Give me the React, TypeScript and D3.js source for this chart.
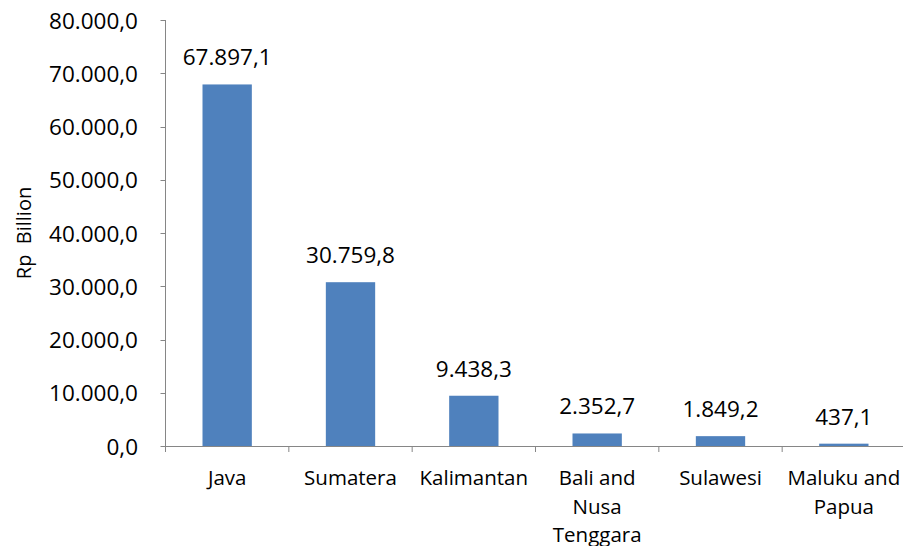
import React from "react";
import { scaleBand, scaleLinear, formatLocale } from "d3";

const regions = ["Java", "Sumatera", "Kalimantan", "Bali and Nusa Tenggara", "Sulawesi", "Maluku and Papua"];
const regionLines = [["Java"], ["Sumatera"], ["Kalimantan"], ["Bali and", "Nusa", "Tenggara"], ["Sulawesi"], ["Maluku and", "Papua"]];
const values = [67897.1, 30759.8, 9438.3, 2352.7, 1849.2, 437.1];
const yTicks = [0, 10000, 20000, 30000, 40000, 50000, 60000, 70000, 80000];

const idLocale = formatLocale({ decimal: ",", thousands: ".", grouping: [3], currency: ["Rp", ""] });
const fmt = idLocale.format(",.1f");

const W = 903;
const H = 546;
const left = 165.5;
const right = 905.5;
const top = 20;
const bottom = 446;
const font = "'Open Sans', sans-serif";
const axisColor = "#868686";

export default function App() {
  const x = scaleBand().domain(regions).range([left, right]).paddingInner(0.6).paddingOuter(0.3);
  const y = scaleLinear().domain([0, 80000]).range([bottom, top]);
  const step = x.step();

  return (
    <svg width={W} height={H} style={{ position: "absolute", left: 0, top: 0, background: "#fff" }} fontFamily={font}>
      {/* bars */}
      {values.map((v, i) => (
        <rect key={i} x={x(regions[i])} y={y(v)} width={x.bandwidth()} height={bottom - y(v)} fill="#4F81BD" />
      ))}
      {/* value labels */}
      {values.map((v, i) => (
        <text key={i} x={(x(regions[i]) ?? 0) + x.bandwidth() / 2} y={y(v) - 19} textAnchor="middle" fontSize={22.5} fill="#000">
          {fmt(v)}
        </text>
      ))}
      {/* y axis */}
      <line x1={left} x2={left} y1={top} y2={bottom} stroke={axisColor} strokeWidth={1} />
      {yTicks.map((t) => (
        <g key={t}>
          <line x1={left - 5} x2={left} y1={Math.round(y(t)) + 0.5} y2={Math.round(y(t)) + 0.5} stroke={axisColor} />
          <text x={138} y={y(t)} textAnchor="end" dominantBaseline="central" fontSize={22.5} fill="#000">
            {fmt(t)}
          </text>
        </g>
      ))}
      {/* x axis */}
      <line x1={left} x2={right} y1={bottom + 0.5} y2={bottom + 0.5} stroke={axisColor} />
      {regions.map((r, i) => (
        <line key={r} x1={left + i * step} x2={left + i * step} y1={bottom} y2={bottom + 6} stroke={axisColor} />
      ))}
      {regionLines.map((lines, i) => (
        <text key={i} textAnchor="middle" fontSize={20.5} fill="#000">
          {lines.map((l, j) => (
            <tspan key={j} x={(x(regions[i]) ?? 0) + x.bandwidth() / 2} y={485 + j * 28.5}>
              {l}
            </tspan>
          ))}
        </text>
      ))}
      {/* y title */}
      <text transform={`translate(31,${233}) rotate(-90)`} textAnchor="middle" fontSize={20} fill="#000">
        {"Rp\u00a0\u00a0Billion"}
      </text>
    </svg>
  );
}
